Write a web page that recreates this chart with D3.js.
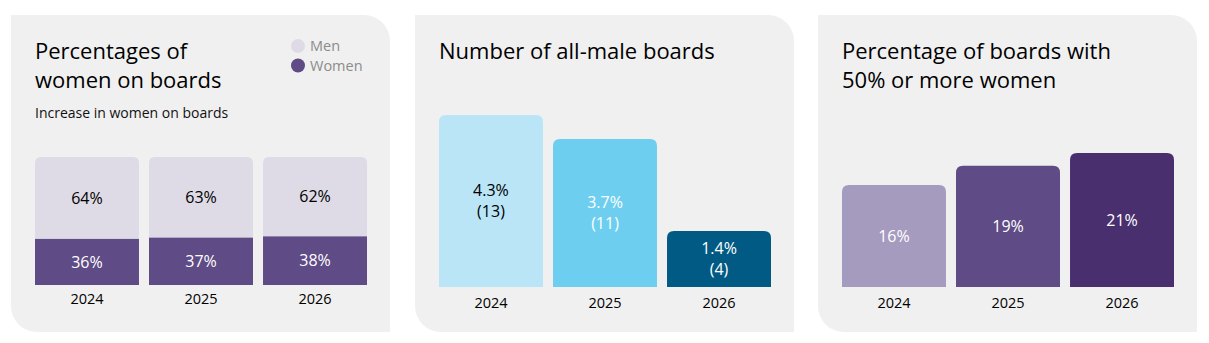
<!DOCTYPE html>
<html>
<head>
<meta charset="utf-8">
<script src="https://cdn.jsdelivr.net/npm/d3@7"></script>
<style>
  body { margin: 0; background: #fff; }
  svg { display: block; font-family: "Open Sans", "Noto Sans", sans-serif; }
  .axis .domain { display: none; }
  .axis line { display: none; }
</style>
</head>
<body>
<div id="chart-area"></div>
<script>
// data
const years = ['2024', '2025', '2026']
const womenShare = [36, 37, 38]
const menShare = [64, 63, 62]
const allMalePct = [4.3, 3.7, 1.4]
const allMaleCount = [13, 11, 4]
const halfWomenPct = [16, 19, 21]

const W = 1209
const H = 343
const panelTop = 15
const panelW = 379
const panelH = 317
const panelX = [11, 415, 818]

const svg = d3.select('#chart-area').append('svg')
    .attr('width', W)
    .attr('height', H)

// panel shape: square top-left / bottom-right, round top-right / bottom-left
function panelPath(x, y, w, h, r) {
    return `M${x},${y} H${x + w - r} A${r},${r} 0 0 1 ${x + w},${y + r}
            V${y + h} H${x + r} A${r},${r} 0 0 1 ${x},${y + h - r} Z`
}

// bar with rounded top corners
function topRounded(x, y, w, h, r) {
    r = Math.min(r, h, w / 2)
    return `M${x},${y + h} V${y + r} Q${x},${y} ${x + r},${y} H${x + w - r}
            Q${x + w},${y} ${x + w},${y + r} V${y + h} Z`
}

const panels = panelX.map(px => {
    svg.append('path')
        .attr('d', panelPath(px, panelTop, panelW, panelH, 26))
        .attr('fill', '#f0f0f0')
    return svg.append('g').attr('transform', `translate(${px}, 0)`)
})

function makeX() {
    return d3.scaleBand()
        .domain(years)
        .range([24, 356])
        .paddingInner(0.088)
        .paddingOuter(0)
}

function addAxis(g, x, base) {
    g.append('g')
        .attr('class', 'axis')
        .attr('transform', `translate(0, ${base})`)
        .call(d3.axisBottom(x).tickSize(0).tickPadding(9))
        .selectAll('text')
        .attr('font-size', '14.5px')
        .attr('font-family', '"Open Sans", sans-serif')
        .attr('fill', '#000')
}

function addTitle(g, lines, y0) {
    const t = g.append('text')
        .attr('x', 24)
        .attr('font-size', '22px')
        .attr('fill', '#000')
    lines.forEach((l, i) => {
        t.append('tspan').attr('x', 24).attr('y', y0 + i * 29).text(l)
    })
}

// ---- panel 1: stacked men/women ----
{
    const g = panels[0]
    const base = 285
    const x = makeX()
    const y = d3.scaleLinear().domain([0, 100]).range([base, base - 128])

    addTitle(g, ['Percentages of', 'women on boards'], 59)
    g.append('text')
        .attr('x', 24).attr('y', 118)
        .attr('font-size', '14px')
        .attr('fill', '#111')
        .text('Increase in women on boards')

    // legend
    const legend = [['Men', '#dedbe6'], ['Women', '#5f4b85']]
    legend.forEach(([name, c], i) => {
        g.append('circle')
            .attr('cx', 287).attr('cy', 46 + i * 19.5).attr('r', 7)
            .attr('fill', c)
        g.append('text')
            .attr('x', 299).attr('y', 51 + i * 19.5)
            .attr('font-size', '14.5px')
            .attr('fill', '#8c8c8c')
            .text(name)
    })

    years.forEach((yr, i) => {
        const w = womenShare[i], m = menShare[i]
        g.append('path')
            .attr('d', topRounded(x(yr), y(w + m), x.bandwidth(), y(w) - y(w + m), 6))
            .attr('fill', '#dedbe6')
        g.append('rect')
            .attr('x', x(yr)).attr('y', y(w))
            .attr('width', x.bandwidth()).attr('height', base - y(w))
            .attr('fill', '#5f4b85')
        g.append('text')
            .attr('x', x(yr) + x.bandwidth() / 2)
            .attr('y', (y(w) + y(w + m)) / 2)
            .attr('dy', '0.35em')
            .attr('text-anchor', 'middle')
            .attr('font-size', '16px')
            .attr('fill', '#000')
            .text(m + '%')
        g.append('text')
            .attr('x', x(yr) + x.bandwidth() / 2)
            .attr('y', (y(0) + y(w)) / 2)
            .attr('dy', '0.35em')
            .attr('text-anchor', 'middle')
            .attr('font-size', '16px')
            .attr('fill', '#fff')
            .text(w + '%')
    })
    addAxis(g, x, base)
}

// ---- panel 2: all-male boards ----
{
    const g = panels[1]
    const base = 287
    const x = makeX()
    const y = d3.scaleLinear().domain([0, 4.3]).range([base, base - 172])
    const colors = ['#b9e5f7', '#6ecef0', '#015a84']
    const labelColors = ['#000', '#fff', '#fff']

    addTitle(g, ['Number of all-male boards'], 59)

    years.forEach((yr, i) => {
        const v = allMalePct[i]
        g.append('path')
            .attr('d', topRounded(x(yr), y(v), x.bandwidth(), base - y(v), 7))
            .attr('fill', colors[i])
        const cy = (y(v) + base) / 2
        const t = g.append('text')
            .attr('text-anchor', 'middle')
            .attr('font-size', '16px')
            .attr('fill', labelColors[i])
        t.append('tspan').attr('x', x(yr) + x.bandwidth() / 2).attr('y', cy - 5).text(v + '%')
        t.append('tspan').attr('x', x(yr) + x.bandwidth() / 2).attr('y', cy + 16).text(`(${allMaleCount[i]})`)
    })
    addAxis(g, x, base + 2)
}

// ---- panel 3: boards with 50%+ women ----
{
    const g = panels[2]
    const base = 287
    const x = makeX()
    const y = d3.scaleLinear().domain([0, 21]).range([base, base - 134])
    const colors = ['#a59bbf', '#5f4b85', '#4a2f6f']

    addTitle(g, ['Percentage of boards with', '50% or more women'], 59)

    years.forEach((yr, i) => {
        const v = halfWomenPct[i]
        g.append('path')
            .attr('d', topRounded(x(yr), y(v), x.bandwidth(), base - y(v), 7))
            .attr('fill', colors[i])
        g.append('text')
            .attr('x', x(yr) + x.bandwidth() / 2)
            .attr('y', (y(v) + base) / 2)
            .attr('dy', '0.35em')
            .attr('text-anchor', 'middle')
            .attr('font-size', '16px')
            .attr('fill', '#fff')
            .text(v + '%')
    })
    addAxis(g, x, base + 2)
}
</script>
</body>
</html>
